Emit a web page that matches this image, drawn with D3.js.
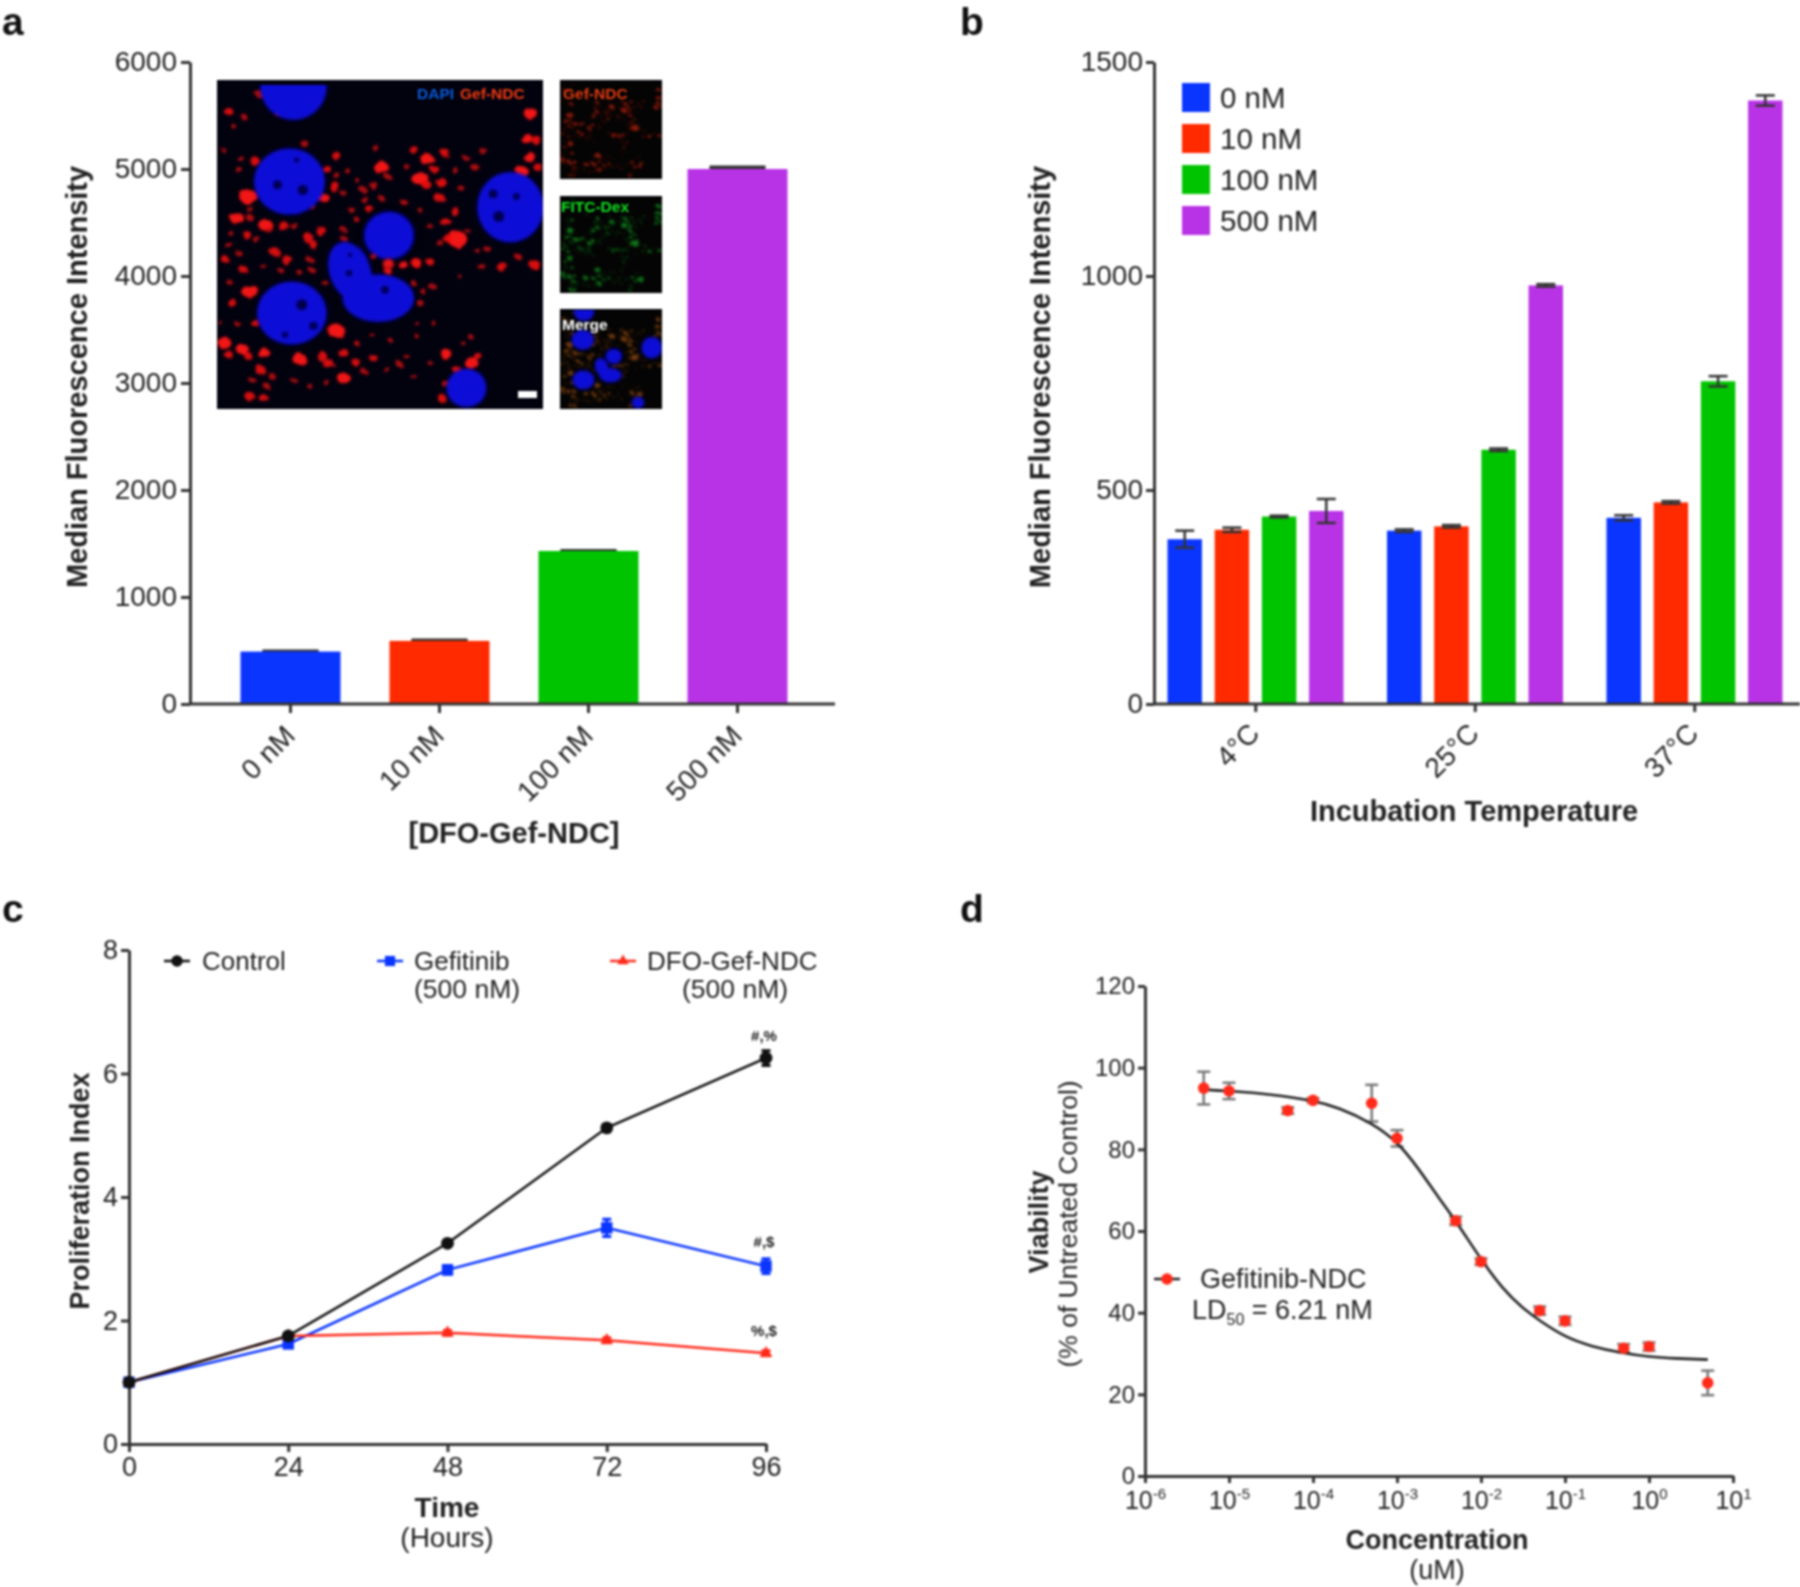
<!DOCTYPE html>
<html><head><meta charset="utf-8">
<script src="https://cdn.jsdelivr.net/npm/d3@7/dist/d3.min.js"></script>
<style>
html,body{margin:0;padding:0;background:#fff}
svg{display:block;filter:blur(1.05px)}
text{font-family:"Liberation Sans",Arial,sans-serif;fill:#222}
</style></head><body><svg id="c" width="1800" height="1587"></svg>
<script>
// ---------- DATA ----------
const concCats=["0 nM","10 nM","100 nM","500 nM"];
const concColors=["#0a35ff","#ff2a00","#00c400","#b933e6"];
const aValues=[490,590,1430,5000];
const aErrors=[8,10,8,20];
const aTicks=[0,1000,2000,3000,4000,5000,6000];
const tempCats=["4°C","25°C","37°C"];
const bValues=[[385,407,438,451],[405,415,594,978],[435,471,754,1410]];
const bErrors=[[20,5,2,28],[3,3,3,3],[6,3,12,12]];
const bTicks=[0,500,1000,1500];
const timePoints=[0,24,48,72,96];
const controlVals=[1,1.75,3.25,5.12,6.25];
const gefVals=[1,1.62,2.82,3.5,2.88];
const ndcVals=[1,1.75,1.8,1.68,1.47];
const controlErr=[0.03,0.05,0.05,0.05,0.12];
const gefErr=[0.03,0.05,0.07,0.14,0.12];
const ndcErr=[0.03,0.03,0.04,0.04,0.04];
const cYTicks=[0,2,4,6,8];
const doseConc=[5e-6,1e-5,5e-5,1e-4,5e-4,1e-3,5e-3,1e-2,5e-2,1e-1,5e-1,1,5];
const doseVia=[95,94.3,89.5,92,91.3,82.7,62.5,52.5,40.5,38,31.3,31.7,22.8];
const doseErr=[4,2,0.8,0.5,4.5,2,1,0.8,1,1,1,1,3];
const curveLogX=[-5.3,-5,-4.5,-4,-3.7,-3.3,-3,-2.75,-2.5,-2.3,-2,-1.75,-1.5,-1.3,-1,-0.7,-0.3,0,0.3,0.7];
const curveY=[94.6,94.3,93.5,92,90.3,86.5,82,75.5,68,62.5,53,46,41,38,34,31.8,30,29.2,28.8,28.5];
const dYTicks=[0,20,40,60,80,100,120];
const dXExps=[-6,-5,-4,-3,-2,-1,0,1];
// Micrograph inset content (inset pixels at 3x)
const nuclei=[[280,50,100,100],[268,335,107,100],[932,412,100,106],[275,730,105,95],[800,955,60,58]];
const nucleusMid=[567,497,73,70];
const holes=[[232,345,14],[308,360,16],[880,372,14],[950,380,11],[897,440,17],[305,705,17],[555,660,12],[340,768,13],[447,610,10],[255,795,10],[290,270,8],[450,555,7]];
const spots=[[995,132,16],[980,205,14],[1010,210,12],[990,262,14],[1015,292,11],[968,305,15],[1005,585,13],[908,592,13],[845,590,9],[772,508,24],[742,505,11],[720,520,9],[865,540,9],[955,560,8],
[680,268,16],[735,248,11],[640,238,10],[850,243,9],[800,265,7],[545,295,18],[660,325,20],[680,345,12],[705,298,10],[725,338,13],[765,300,8],[825,292,9],[780,352,8],[720,385,13],[765,425,11],[735,455,12],[620,290,7],[525,232,8],[565,322,8],[520,345,9],[490,360,8],[495,390,9],[510,420,10],[610,395,8],[455,420,8],[470,450,7],[430,480,8],
[410,258,11],[165,275,12],[120,265,8],[120,303,8],[310,218,9],[380,298,10],[410,318,8],[405,352,13],[145,380,22],[368,382,14],[335,410,7],[85,125,11],[130,140,8],[175,70,9],[235,135,7],
[110,445,17],[150,420,8],[150,445,9],[140,495,10],[195,465,17],[205,478,9],[250,470,13],[280,465,9],[170,510,9],[85,525,9],[225,548,12],[75,570,10],[262,572,13],[325,505,13],[362,483,13],[340,525,11],[330,570,9],[335,600,8],[130,600,10],[430,505,8],
[150,665,20],[95,698,11],[165,760,11],[410,785,20],[72,820,17],[85,855,10],[128,840,15],[145,860,10],[190,850,14],[298,868,17],[180,900,13],[215,920,9],[160,935,8],[200,950,8],[150,982,12],[190,985,11],[365,860,13],[385,882,13],[430,850,12],[470,880,10],[430,925,16],[490,905,8],[520,865,10],[600,885,8],
[565,580,16],[610,585,11],[650,580,12],[690,575,9],[520,560,8],[565,605,9],[697,650,9],[660,700,9],[640,640,7],[670,665,7],[740,855,14],[815,880,17],[835,860,10],[772,900,10],[740,945,9],[725,985,11],[810,800,7],[790,820,6],[650,800,6],[620,860,7],[780,620,5],
[100,170,6],[70,240,6],[440,300,7],[470,330,6],[545,385,7],[590,430,6],[430,370,7],[660,420,6],[690,470,7],[800,480,7],[830,540,6],[90,490,7],[115,550,8],[190,590,7],[240,600,7],[300,610,7],[375,640,7],[90,640,7],[110,760,7],[60,760,6],[520,800,6],[570,810,6],[470,820,7],[560,900,7],[640,920,7],[690,880,6],[280,930,7],[330,950,7],[380,940,7],[650,760,6],[700,760,6]];
// ---------- DRAW ----------
const svg=d3.select("#c");
const defs=svg.append("defs");
const FONT_TICK=28, AX="#333";
function styleAxis(g,fs){
  g.selectAll(".domain").attr("stroke",AX).attr("stroke-width",3);
  g.selectAll(".tick line").attr("stroke",AX).attr("stroke-width",3);
  g.selectAll("text").attr("font-size",fs).attr("fill","#222").style("font-family",'"Liberation Sans"');
}
function label(t,x,y,o={}){
  const e=svg.append("text").attr("x",x).attr("y",y).attr("text-anchor",o.anchor||"middle").attr("font-size",o.size||26).attr("font-weight",o.bold?"bold":"normal").text(t);
  if(o.rot) e.attr("transform",`rotate(${o.rot} ${x} ${y})`);
  return e;
}
function errBar(g,x,y0,y1,cap,col,w){
  const c=col||"#333",sw=w||2.5;
  g.append("line").attr("x1",x).attr("x2",x).attr("y1",y0).attr("y2",y1).attr("stroke",c).attr("stroke-width",sw);
  [y0,y1].forEach(y=>g.append("line").attr("x1",x-cap/2).attr("x2",x+cap/2).attr("y1",y).attr("y2",y).attr("stroke",c).attr("stroke-width",sw));
}
const plain=d3.format("d");
// panel letters
[["a",2,35],["b",960,35],["c",2,922],["d",960,922]].forEach(d=>label(d[0],d[1],d[2],{anchor:"start",size:39,bold:true}).style("fill","#111"));

// ----- Panel a
(function(){
  const xA=d3.scaleBand().domain(concCats).range([216,812]).paddingInner(0).paddingOuter(0);
  const y=d3.scaleLinear().domain([0,6000]).range([704,62]);
  const g=svg.append("g");
  concCats.forEach((c,i)=>{
    const cx=xA(c)+xA.bandwidth()/2;
    errBar(g,cx,y(aValues[i]+aErrors[i]),y(aValues[i]),56);
    g.append("rect").attr("x",cx-50).attr("width",100).attr("y",y(aValues[i])).attr("height",y(0)-y(aValues[i])).attr("fill",concColors[i]);
  });
  const ay=svg.append("g").attr("transform","translate(190,0)").call(d3.axisLeft(y).tickValues(aTicks).tickFormat(plain).tickSize(9).tickSizeOuter(0).tickPadding(4));
  styleAxis(ay,FONT_TICK);
  const ax=svg.append("g").attr("transform","translate(0,704)").call(d3.axisBottom(xA).tickSize(9).tickSizeOuter(0));
  styleAxis(ax,FONT_TICK);
  ax.select(".domain").attr("d","M190,0H835");
  ax.selectAll("text").attr("text-anchor","end").attr("dy",0).attr("y",0).attr("transform","translate(1,28) rotate(-45)").attr("dominant-baseline","middle");
  label("Median Fluorescence Intensity",87,377,{rot:-90,bold:true,size:29});
  label("[DFO-Gef-NDC]",514,843,{bold:true,size:29});
})();

// ----- Inset micrograph
(function(){
  const rough=defs.append("filter").attr("id","rough").attr("x","-5%").attr("y","-5%").attr("width","110%").attr("height","110%");
  rough.append("feTurbulence").attr("type","fractalNoise").attr("baseFrequency",0.09).attr("numOctaves",2).attr("seed",4).attr("result","n");
  rough.append("feDisplacementMap").attr("in","SourceGraphic").attr("in2","n").attr("scale",7).attr("result","d");
  rough.append("feGaussianBlur").attr("in","d").attr("stdDeviation",1.1);
  const roughS=defs.append("filter").attr("id","roughS");
  roughS.append("feTurbulence").attr("type","fractalNoise").attr("baseFrequency",0.2).attr("numOctaves",2).attr("seed",9).attr("result","n");
  roughS.append("feDisplacementMap").attr("in","SourceGraphic").attr("in2","n").attr("scale",4).attr("result","d");
  roughS.append("feGaussianBlur").attr("in","d").attr("stdDeviation",0.8);
  defs.append("filter").attr("id","soft").append("feGaussianBlur").attr("stdDeviation",1.5);
  function scene(id,ox,oy,w,h,mode){
    const s=w/980, sy=h/988;
    defs.append("clipPath").attr("id",id).append("rect").attr("x",ox).attr("y",oy).attr("width",w).attr("height",h);
    const g=svg.append("g").attr("clip-path",`url(#${id})`);
    g.append("rect").attr("x",ox).attr("y",oy).attr("width",w).attr("height",h).attr("fill",mode==="main"?"#02020f":"#040404");
    const px=v=>ox+(v-50)*s, py=v=>oy+(v-30)*sy;
    const spotCol={main:"#f21212",red:"#a81c0a",green:"#128a1c",merge:"#8a4412"}[mode];
    const k=mode==="main"?1.1:1.25;
    const sg=g.append("g").attr("filter",mode==="main"?"url(#rough)":"url(#roughS)");
    sg.selectAll(null).data(spots).join("ellipse").attr("cx",d=>px(d[0])).attr("cy",d=>py(d[1]))
      .attr("rx",d=>d[2]*s*k*1.15).attr("ry",d=>d[2]*sy*k*0.95)
      .attr("fill",spotCol).attr("opacity",d=>mode==="main"?(d[2]<10?0.72:(d[2]<14?0.9:1)):(d[2]<10?0.55:0.85));
    if(mode==="main"||mode==="merge"){
      const nb="#0a0ad8", n=g.append("g").attr("filter","url(#soft)");
      n.selectAll(null).data(nuclei).join("ellipse").attr("cx",d=>px(d[0])).attr("cy",d=>py(d[1])).attr("rx",d=>d[2]*s).attr("ry",d=>d[3]*sy).attr("fill",nb);
      n.append("ellipse").attr("cx",px(450)).attr("cy",py(605)).attr("rx",62*s).attr("ry",92*sy).attr("fill",nb).attr("transform",`rotate(-20 ${px(450)} ${py(605)})`);
      n.append("ellipse").attr("cx",px(535)).attr("cy",py(685)).attr("rx",108*s).attr("ry",72*sy).attr("fill",nb);
      n.append("ellipse").attr("cx",px(nucleusMid[0])).attr("cy",py(nucleusMid[1])).attr("rx",(nucleusMid[2]+22)*s).attr("ry",(nucleusMid[3]+22)*sy).attr("fill","#02020f");
      n.append("ellipse").attr("cx",px(nucleusMid[0])).attr("cy",py(nucleusMid[1])).attr("rx",nucleusMid[2]*s).attr("ry",nucleusMid[3]*sy).attr("fill",nb);
      if(mode==="main"){
        n.selectAll(null).data(holes).join("circle").attr("cx",d=>px(d[0])).attr("cy",d=>py(d[1])).attr("r",d=>d[2]*s).attr("fill","#030340");
        g.append("g").attr("filter","url(#soft)").selectAll(null).data(spots.filter(d=>d[1]>555&&d[1]<620&&d[0]>500&&d[0]<720)).join("ellipse").attr("cx",d=>px(d[0])).attr("cy",d=>py(d[1])).attr("rx",d=>d[2]*s).attr("ry",d=>d[2]*s*0.8).attr("fill",spotCol);
      }
    }
    g.append("rect").attr("x",ox).attr("y",oy).attr("width",w).attr("height",mode==="main"?5:1).attr("fill","#02020f");
    return g;
  }
  scene("cm",217,80,326,329,"main");
  scene("cr",560,80,102,99,"red");
  scene("cg",560,196,102,97,"green");
  scene("cn",560,309,102,100,"merge");
  label("DAPI",417,99,{anchor:"start",size:15.5,bold:true}).style("fill","#0a5ad8");
  label("Gef-NDC",460,99,{anchor:"start",size:15.5,bold:true}).style("fill","#f03a10");
  label("Gef-NDC",563,99,{anchor:"start",size:15.5,bold:true}).style("fill","#e03a10");
  label("FITC-Dex",561,212,{anchor:"start",size:15.5,bold:true}).style("fill","#10e020");
  label("Merge",562,330,{anchor:"start",size:15.5,bold:true}).style("fill","#fff");
  svg.append("rect").attr("x",518).attr("y",391).attr("width",19).attr("height",7).attr("fill","#fff");
})();

// ----- Panel b
(function(){
  const x0=d3.scaleBand().domain(tempCats).range([1146,1804.5]).padding(0);
  const x1=d3.scaleBand().domain(d3.range(4)).range([0,176]).paddingInner(0.27).paddingOuter(0);
  const y=d3.scaleLinear().domain([0,1500]).range([704,62]);
  const g=svg.append("g");
  tempCats.forEach((t,i)=>{
    const left=x0(t)+21.5;
    bValues[i].forEach((v,j)=>{
      const bx=left+x1(j), cx=bx+x1.bandwidth()/2;
      g.append("rect").attr("x",bx).attr("width",x1.bandwidth()).attr("y",y(v)).attr("height",y(0)-y(v)).attr("fill",concColors[j]);
      errBar(g,cx,y(v+bErrors[i][j]),y(v-bErrors[i][j]),19);
    });
  });
  const ay=svg.append("g").attr("transform","translate(1154,0)").call(d3.axisLeft(y).tickValues(bTicks).tickFormat(plain).tickSize(8).tickSizeOuter(0).tickPadding(3));
  styleAxis(ay,FONT_TICK);
  const ax=svg.append("g").attr("transform","translate(0,704)").call(d3.axisBottom(x0).tickSize(8).tickSizeOuter(0));
  styleAxis(ax,FONT_TICK);
  ax.select(".domain").attr("d","M1154,0H1800");
  ax.selectAll("text").attr("text-anchor","end").attr("y",0).attr("dy",0).attr("dominant-baseline","middle").attr("transform","translate(0,26) rotate(-45)");
  label("Median Fluorescence Intensity",1050,377,{rot:-90,bold:true,size:29});
  label("Incubation Temperature",1474,821,{bold:true,size:29});
  concCats.forEach((c,i)=>{
    const ly=98+i*41;
    svg.append("rect").attr("x",1182).attr("y",ly-15).attr("width",28).attr("height",29).attr("fill",concColors[i]);
    label(c,1220,ly+10,{anchor:"start",size:29.5});
  });
})();

// ----- Panel c
(function(){
  const x=d3.scaleLinear().domain([0,96]).range([129,766]);
  const y=d3.scaleLinear().domain([0,8]).range([1444,950]);
  const series=[
    {v:gefVals,e:gefErr,c:"#0a35ff",m:d3.symbolSquare,sz:130},
    {v:ndcVals,e:ndcErr,c:"#ff2a1a",m:d3.symbolTriangle,sz:70},
    {v:controlVals,e:controlErr,c:"#111",m:d3.symbolCircle,sz:130}
  ];
  const line=v=>d3.line().x((d,i)=>x(timePoints[i])).y(d=>y(d))(v);
  const ax=svg.append("g").attr("transform","translate(0,1444)").call(d3.axisBottom(x).tickValues(timePoints).tickSize(8).tickSizeOuter(0).tickPadding(5));
  styleAxis(ax,27);
  const ay=svg.append("g").attr("transform","translate(129,0)").call(d3.axisLeft(y).tickValues(cYTicks).tickSize(8).tickSizeOuter(0).tickPadding(3));
  styleAxis(ay,27);
  series.forEach(s=>{
    svg.append("path").attr("d",line(s.v)).attr("fill","none").attr("stroke",s.c).attr("stroke-width",2.5);
    s.v.forEach((v,i)=>{
      errBar(svg,x(timePoints[i]),y(v+s.e[i]),y(v-s.e[i]),9,s.c,3);
      svg.append("path").attr("d",d3.symbol().type(s.m).size(s.sz)()).attr("fill",s.c).attr("transform",`translate(${x(timePoints[i])},${y(v)})`);
    });
  });
  label("#,%",764,1041,{size:15,bold:true});
  label("#,$",764,1247,{size:15,bold:true});
  label("%,$",764,1336,{size:15,bold:true});
  label("Proliferation Index",89,1191,{rot:-90,bold:true,size:27});
  label("Time",447,1517,{bold:true,size:28});
  label("(Hours)",447,1547,{size:28});
  const leg=[[series[2],177,202,"Control"],[series[0],390,414,"Gefitinib"],[series[1],623,647,"DFO-Gef-NDC"]];
  leg.forEach(l=>{
    svg.append("line").attr("x1",l[1]-13).attr("x2",l[1]+13).attr("y1",961).attr("y2",961).attr("stroke",l[0].c).attr("stroke-width",2.5);
    svg.append("path").attr("d",d3.symbol().type(l[0].m).size(l[0].sz*0.8)()).attr("fill",l[0].c).attr("transform",`translate(${l[1]},961)`);
    label(l[3],l[2],970,{anchor:"start",size:26});
  });
  label("(500 nM)",414,998,{anchor:"start",size:26.5});
  label("(500 nM)",682,998,{anchor:"start",size:26.5});
})();

// ----- Panel d
(function(){
  const x=d3.scaleLog().domain([1e-6,10]).range([1145,1733]);
  const y=d3.scaleLinear().domain([0,120]).range([1476,986]);
  const ay=svg.append("g").attr("transform","translate(1145,0)").call(d3.axisLeft(y).tickValues(dYTicks).tickSize(7).tickSizeOuter(0).tickPadding(3));
  styleAxis(ay,24);
  const ax=svg.append("g").attr("transform","translate(0,1476)").call(d3.axisBottom(x).tickValues(dXExps.map(e=>Math.pow(10,e))).tickFormat(()=>"").tickSize(7).tickSizeOuter(0));
  styleAxis(ax,24);
  ax.selectAll(".tick").each(function(d,i){
    const t=d3.select(this).append("text").attr("y",33).attr("text-anchor","middle").attr("font-size",25).style("fill","#222");
    t.append("tspan").text("10");
    t.append("tspan").attr("dy",-10).attr("font-size",15).text(dXExps[i]<0?"-"+(-dXExps[i]):dXExps[i]);
  });
  const curve=d3.line().x((d,i)=>x(Math.pow(10,curveLogX[i]))).y(d=>y(d)).curve(d3.curveBasis);
  doseConc.forEach((c,i)=>errBar(svg,x(c),y(doseVia[i]+doseErr[i]),y(doseVia[i]-doseErr[i]),13,"#777",2.5));
  svg.append("path").attr("d",curve(curveY)).attr("fill","none").attr("stroke","#222").attr("stroke-width",2.6);
  svg.selectAll(null).data(doseConc).join("circle").attr("cx",d=>x(d)).attr("cy",(d,i)=>y(doseVia[i])).attr("r",5.8).attr("fill","#ff2a1a");
  label("Viability",1048,1222,{rot:-90,bold:true,size:27});
  label("(% of Untreated Control)",1077,1224,{rot:-90,size:26.5});
  label("Concentration",1437,1549,{bold:true,size:27});
  label("(uM)",1437,1579,{size:27});
  svg.append("line").attr("x1",1154).attr("x2",1180).attr("y1",1279).attr("y2",1279).attr("stroke","#222").attr("stroke-width",2.5);
  svg.append("circle").attr("cx",1167).attr("cy",1279).attr("r",5.8).attr("fill","#ff2a1a");
  label("Gefitinib-NDC",1200,1288,{anchor:"start",size:27});
  const ld=label("LD",1192,1319,{anchor:"start",size:27});
  ld.append("tspan").attr("dy",6).attr("font-size",16).text("50");
  ld.append("tspan").attr("dy",-6).text(" = 6.21 nM");
})();
</script></body></html>
